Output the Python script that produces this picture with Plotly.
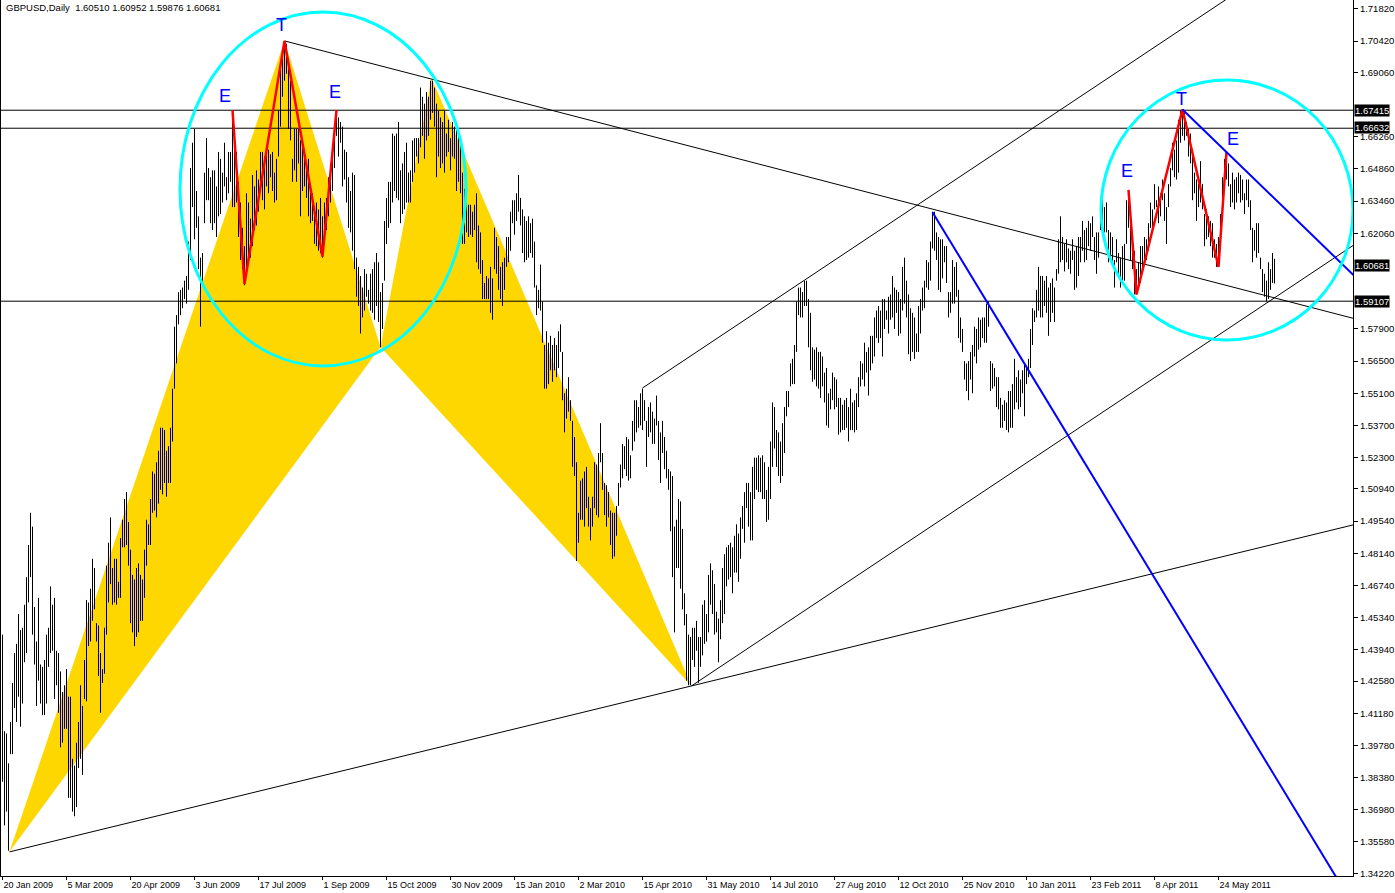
import plotly.graph_objects as go

# ---------------- data ----------------
highs = [
 1.446,1.404,1.403,1.390,1.408,1.425,1.438,1.442,1.455,1.448,
 1.449,1.459,1.471,1.485,1.499,1.493,1.458,1.443,1.462,1.433,
 1.432,1.435,1.446,1.449,1.467,1.459,1.462,1.439,1.438,1.430,
 1.421,1.424,1.431,1.419,1.419,1.392,1.389,1.399,1.408,1.424,
 1.415,1.435,1.461,1.460,1.466,1.479,1.475,1.451,1.450,1.438,
 1.431,1.449,1.476,1.486,1.497,1.475,1.479,1.479,1.469,1.488,
 1.496,1.505,1.508,1.495,1.483,1.472,1.470,1.475,1.477,1.472,
 1.470,1.483,1.496,1.494,1.505,1.517,1.516,1.521,1.526,1.536,
 1.536,1.535,1.526,1.528,1.536,1.553,1.580,1.585,1.595,1.596,
 1.597,1.600,1.602,1.617,1.649,1.660,1.666,1.639,1.628,1.610,
 1.612,1.647,1.662,1.649,1.645,1.648,1.648,1.641,1.656,1.653,
 1.647,1.660,1.645,1.656,1.656,1.674,1.667,1.656,1.643,1.634,
 1.623,1.615,1.638,1.634,1.627,1.646,1.641,1.648,1.644,1.656,
 1.656,1.654,1.658,1.657,1.655,1.656,1.647,1.653,1.674,1.693,
 1.699,1.704,1.703,1.696,1.687,1.653,1.666,1.666,1.666,1.661,
 1.659,1.657,1.651,1.653,1.641,1.638,1.631,1.634,1.631,1.636,
 1.628,1.634,1.636,1.645,1.651,1.658,1.666,1.674,1.671,1.669,
 1.667,1.657,1.656,1.645,1.639,1.647,1.646,1.610,1.606,1.602,
 1.597,1.605,1.603,1.596,1.603,1.605,1.608,1.612,1.608,1.595,
 1.599,1.626,1.636,1.643,1.643,1.664,1.663,1.664,1.669,1.648,
 1.651,1.656,1.660,1.647,1.648,1.661,1.662,1.662,1.662,1.684,
 1.680,1.677,1.682,1.680,1.687,1.687,1.684,1.677,1.674,1.671,
 1.669,1.674,1.664,1.670,1.662,1.669,1.667,1.666,1.664,1.661,
 1.647,1.640,1.635,1.633,1.633,1.630,1.633,1.638,1.624,1.621,
 1.609,1.599,1.602,1.601,1.606,1.601,1.623,1.619,1.615,1.606,
 1.608,1.610,1.619,1.619,1.630,1.635,1.635,1.638,1.646,1.636,
 1.631,1.628,1.626,1.628,1.625,1.627,1.617,1.598,1.596,1.607,
 1.591,1.572,1.578,1.573,1.576,1.572,1.575,1.572,1.578,1.581,
 1.569,1.551,1.553,1.558,1.548,1.539,1.532,1.521,1.499,1.513,
 1.514,1.517,1.519,1.506,1.501,1.506,1.521,1.520,1.525,1.538,
 1.525,1.512,1.511,1.508,1.500,1.499,1.499,1.502,1.512,1.520,
 1.529,1.528,1.532,1.531,1.524,1.539,1.548,1.548,1.545,1.551,
 1.553,1.548,1.539,1.545,1.547,1.543,1.540,1.550,1.539,1.534,
 1.539,1.532,1.526,1.518,1.517,1.515,1.493,1.496,1.505,1.504,
 1.492,1.464,1.455,1.446,1.445,1.449,1.449,1.452,1.445,1.445,
 1.459,1.461,1.455,1.472,1.477,1.474,1.468,1.456,1.453,1.461,
 1.475,1.481,1.484,1.485,1.486,1.484,1.489,1.494,1.490,1.497,
 1.502,1.508,1.512,1.512,1.508,1.519,1.523,1.523,1.524,1.523,
 1.524,1.521,1.509,1.519,1.530,1.547,1.545,1.535,1.534,1.530,
 1.538,1.545,1.552,1.552,1.564,1.566,1.572,1.591,1.597,1.597,
 1.595,1.600,1.600,1.592,1.586,1.571,1.570,1.571,1.569,1.569,
 1.567,1.560,1.562,1.551,1.553,1.560,1.558,1.557,1.549,1.549,
 1.546,1.548,1.549,1.545,1.553,1.547,1.548,1.551,1.558,1.565,
 1.564,1.573,1.569,1.571,1.576,1.576,1.584,1.587,1.589,1.587,
 1.592,1.592,1.587,1.593,1.594,1.602,1.597,1.596,1.595,1.592,
 1.606,1.610,1.600,1.594,1.588,1.586,1.584,1.577,1.589,1.592,
 1.597,1.600,1.609,1.608,1.617,1.630,1.630,1.621,1.619,1.618,
 1.618,1.615,1.615,1.595,1.595,1.609,1.606,1.608,1.596,1.584,
 1.579,1.565,1.564,1.565,1.569,1.572,1.580,1.579,1.584,1.583,
 1.584,1.584,1.590,1.591,1.565,1.564,1.562,1.558,1.558,1.549,
 1.546,1.548,1.547,1.552,1.552,1.555,1.566,1.558,1.561,1.557,
 1.561,1.564,1.562,1.566,1.579,1.588,1.587,1.596,1.606,1.602,
 1.602,1.600,1.602,1.597,1.599,1.601,1.597,1.605,1.618,1.628,
 1.619,1.616,1.618,1.614,1.613,1.618,1.613,1.615,1.619,1.619,
 1.626,1.622,1.623,1.626,1.625,1.628,1.619,1.621,1.621,1.628,
 1.635,1.632,1.634,1.622,1.621,1.619,1.609,1.618,1.612,1.610,
 1.615,1.616,1.635,1.639,1.629,1.616,1.613,1.605,1.608,1.615,
 1.615,1.619,1.618,1.625,1.634,1.631,1.642,1.635,1.641,1.638,
 1.644,1.638,1.632,1.642,1.649,1.660,1.657,1.661,1.670,1.674,
 1.6745,1.673,1.669,1.666,1.664,1.657,1.647,1.644,1.642,1.652,
 1.642,1.629,1.631,1.628,1.626,1.625,1.618,1.616,1.619,1.629,
 1.645,1.653,1.656,1.651,1.642,1.647,1.644,1.645,1.647,1.646,
 1.644,1.638,1.644,1.644,1.635,1.623,1.622,1.625,1.625,1.610,
 1.605,1.603,1.600,1.608,1.605,1.612,1.6095,
]

lows = [
 1.382,1.363,1.369,1.352,1.394,1.394,1.414,1.408,1.419,1.406,
 1.416,1.434,1.438,1.460,1.471,1.446,1.433,1.415,1.426,1.416,
 1.411,1.411,1.416,1.432,1.438,1.439,1.418,1.424,1.412,1.397,
 1.399,1.405,1.405,1.375,1.375,1.369,1.367,1.371,1.388,1.392,
 1.385,1.418,1.417,1.441,1.443,1.452,1.457,1.443,1.428,1.412,
 1.425,1.429,1.446,1.460,1.468,1.459,1.460,1.459,1.462,1.462,
 1.484,1.484,1.485,1.476,1.451,1.447,1.441,1.445,1.447,1.452,
 1.452,1.462,1.476,1.485,1.485,1.499,1.500,1.497,1.503,1.509,
 1.507,1.512,1.506,1.512,1.512,1.530,1.553,1.564,1.581,1.585,
 1.588,1.592,1.590,1.596,1.609,1.632,1.618,1.623,1.605,1.580,
 1.598,1.625,1.635,1.635,1.625,1.622,1.625,1.619,1.628,1.629,
 1.634,1.641,1.635,1.638,1.643,1.632,1.632,1.634,1.619,1.609,
 1.605,1.598,1.603,1.608,1.610,1.615,1.622,1.624,1.630,1.639,
 1.635,1.631,1.641,1.638,1.645,1.639,1.634,1.635,1.654,1.667,
 1.680,1.687,1.690,1.666,1.661,1.643,1.648,1.643,1.651,1.628,
 1.639,1.641,1.636,1.628,1.625,1.626,1.616,1.615,1.613,1.612,
 1.610,1.619,1.622,1.628,1.634,1.639,1.649,1.663,1.654,1.660,
 1.641,1.644,1.634,1.623,1.621,1.613,1.605,1.593,1.589,1.577,
 1.584,1.587,1.593,1.590,1.587,1.586,1.583,1.589,1.582,1.571,
 1.579,1.600,1.616,1.623,1.625,1.634,1.639,1.636,1.635,1.625,
 1.629,1.631,1.634,1.634,1.634,1.643,1.647,1.654,1.651,1.658,
 1.663,1.653,1.661,1.663,1.670,1.673,1.667,1.645,1.654,1.649,
 1.651,1.647,1.654,1.656,1.648,1.654,1.653,1.639,1.643,1.638,
 1.616,1.616,1.621,1.619,1.620,1.619,1.622,1.608,1.605,1.603,
 1.592,1.592,1.592,1.592,1.586,1.583,1.605,1.603,1.596,1.592,
 1.589,1.596,1.606,1.608,1.613,1.625,1.620,1.626,1.630,1.624,
 1.612,1.608,1.609,1.610,1.612,1.610,1.597,1.585,1.588,1.587,
 1.573,1.553,1.553,1.555,1.561,1.556,1.561,1.558,1.562,1.569,
 1.548,1.534,1.540,1.543,1.539,1.519,1.515,1.478,1.486,1.496,
 1.496,1.493,1.501,1.493,1.487,1.493,1.501,1.498,1.497,1.521,
 1.509,1.498,1.493,1.497,1.485,1.479,1.480,1.489,1.502,1.510,
 1.514,1.518,1.515,1.513,1.514,1.526,1.530,1.534,1.536,1.537,
 1.535,1.539,1.519,1.532,1.534,1.529,1.529,1.537,1.522,1.512,
 1.525,1.518,1.514,1.509,1.491,1.471,1.447,1.475,1.475,1.466,
 1.457,1.450,1.426,1.424,1.424,1.435,1.432,1.439,1.425,1.432,
 1.437,1.442,1.443,1.447,1.459,1.455,1.446,1.447,1.434,1.444,
 1.451,1.455,1.467,1.470,1.471,1.464,1.473,1.473,1.469,1.479,
 1.492,1.486,1.501,1.493,1.487,1.487,1.505,1.509,1.508,1.508,
 1.505,1.505,1.495,1.496,1.505,1.519,1.527,1.519,1.515,1.512,
 1.515,1.525,1.541,1.545,1.554,1.555,1.555,1.569,1.585,1.584,
 1.584,1.589,1.589,1.571,1.561,1.556,1.557,1.554,1.553,1.549,
 1.554,1.547,1.537,1.536,1.544,1.548,1.544,1.545,1.533,1.534,
 1.535,1.535,1.536,1.530,1.535,1.535,1.534,1.535,1.545,1.554,
 1.557,1.554,1.560,1.550,1.561,1.564,1.567,1.575,1.573,1.575,
 1.567,1.579,1.583,1.577,1.583,1.584,1.579,1.586,1.576,1.577,
 1.587,1.590,1.584,1.568,1.565,1.569,1.566,1.569,1.569,1.577,
 1.587,1.588,1.597,1.596,1.600,1.614,1.613,1.609,1.596,1.595,
 1.601,1.608,1.599,1.584,1.586,1.590,1.590,1.593,1.575,1.573,
 1.569,1.557,1.552,1.548,1.557,1.551,1.567,1.564,1.570,1.571,
 1.575,1.573,1.573,1.580,1.552,1.553,1.554,1.545,1.544,1.536,
 1.536,1.539,1.535,1.534,1.536,1.536,1.544,1.547,1.544,1.545,
 1.551,1.541,1.555,1.558,1.562,1.572,1.582,1.584,1.587,1.584,
 1.584,1.589,1.586,1.576,1.582,1.586,1.582,1.600,1.603,1.608,
 1.609,1.604,1.608,1.605,1.603,1.609,1.596,1.597,1.602,1.608,
 1.613,1.608,1.609,1.615,1.613,1.619,1.609,1.603,1.610,1.622,
 1.623,1.621,1.621,1.608,1.609,1.608,1.597,1.608,1.602,1.597,
 1.599,1.600,1.616,1.623,1.609,1.605,1.594,1.594,1.597,1.599,
 1.603,1.608,1.609,1.613,1.623,1.621,1.631,1.632,1.625,1.628,
 1.635,1.626,1.616,1.632,1.641,1.648,1.645,1.644,1.647,1.660,
 1.663,1.661,1.663,1.654,1.651,1.635,1.638,1.626,1.632,1.634,
 1.631,1.615,1.618,1.619,1.615,1.610,1.610,1.606,1.606,1.616,
 1.634,1.639,1.644,1.641,1.632,1.634,1.631,1.634,1.638,1.634,
 1.635,1.629,1.635,1.632,1.622,1.608,1.613,1.610,1.612,1.605,
 1.595,1.593,1.591,1.592,1.596,1.599,1.5988,
]

date_labels = ["20 Jan 2009", "5 Mar 2009", "20 Apr 2009", "3 Jun 2009", "17 Jul 2009",
               "1 Sep 2009", "15 Oct 2009", "30 Nov 2009", "15 Jan 2010", "2 Mar 2010",
               "15 Apr 2010", "31 May 2010", "14 Jul 2010", "27 Aug 2010", "12 Oct 2010",
               "25 Nov 2010", "10 Jan 2011", "23 Feb 2011", "8 Apr 2011", "24 May 2011"]
bars_per_label = 32

# visible price-scale ticks (the ones hidden under the price boxes are left out)
price_ticks = [1.7182, 1.7042, 1.6906, 1.6626, 1.6486, 1.6346, 1.6206,
               1.5790, 1.5650, 1.5510, 1.5370, 1.5230, 1.5094, 1.4954, 1.4814,
               1.4674, 1.4534, 1.4394, 1.4258, 1.4118, 1.3978, 1.3838, 1.3698, 1.3558, 1.3422]

hline_prices = [1.67415, 1.66632, 1.59107]
last_price = 1.60681
header_text = "GBPUSD,Daily  1.60510 1.60952 1.59876 1.60681"

# Pattern drawings: (bar index, price)
tri1_bar = [3.5, 141, 189]
tri1_price = [1.3515, 1.7043, 1.5711]
tri2_bar = [189, 214.5, 344.5]
tri2_price = [1.5711, 1.6882, 1.4237]

# trend rays: anchor1 bar, anchor1 price, anchor2 bar, anchor2 price
ray_xd = (3.5, 1.3515, 344.5, 1.4237)          # X -> D, extended
ray_tc = (141, 1.7043, 214.5, 1.6877)          # T -> C, extended
chan_low = (344.5, 1.4237, 633.5, 1.5911)      # channel base
chan_up_anchor = (320, 1.5533)                 # parallel line anchor

blue_a = (465, 1.6298, 492, 1.5911)
blue_b = (590, 1.6745, 676, 1.6020)

red_left_bar = [115, 121, 141, 160, 167]
red_left_price = [1.6742, 1.5985, 1.7043, 1.6105, 1.6742]
red_right_bar = [563, 567, 590, 608, 612]
red_right_price = [1.6395, 1.5940, 1.6745, 1.6060, 1.6560]

ellipse_left = (88.75, 231.75, 1.5629, 1.7169)
ellipse_right = (549.25, 675.25, 1.5742, 1.6873)

pattern_labels = [("E", 111.25, 1.6803), ("T", 139.6, 1.7112), ("E", 166.25, 1.6821),
                  ("E", 562.25, 1.6477), ("T", 589.25, 1.6790), ("E", 615.25, 1.6616)]

X_RANGE = [-0.75, 675.25]
Y_RANGE = [1.3410, 1.7221]
X_END = 676

FONT = "Liberation Sans, Arial, sans-serif"
FS = 9

fig = go.Figure()

# yellow harmonic triangles (behind the bars)
for bx, py in ((tri1_bar, tri1_price), (tri2_bar, tri2_price)):
    fig.add_trace(go.Scatter(x=bx + [bx[0]], y=py + [py[0]], mode="lines", fill="toself",
                             fillcolor="#FFD700", line=dict(width=0, color="#FFD700"),
                             hoverinfo="skip"))

# price bars (high-low lines)
bx, by = [], []
for i, (h, l) in enumerate(zip(highs, lows)):
    bx += [i, i, None]
    by += [l, h, None]
fig.add_trace(go.Scatter(x=bx, y=by, mode="lines", line=dict(color="black", width=1),
                         hoverinfo="skip"))


def ray(x0, y0, x1, y1, xend=X_END):
    s = (y1 - y0) / (x1 - x0)
    return [x0, xend], [y0, y0 + s * (xend - x0)]


def add_line(xs, ys, color, width):
    fig.add_trace(go.Scatter(x=xs, y=ys, mode="lines", line=dict(color=color, width=width),
                             hoverinfo="skip"))


# horizontal price lines
for p in hline_prices:
    add_line(X_RANGE, [p, p], "black", 1)

add_line(*ray(*ray_xd), "black", 1)
add_line(*ray(*ray_tc), "black", 1)
add_line(*ray(*chan_low), "black", 1)
slope_ch = (chan_low[3] - chan_low[1]) / (chan_low[2] - chan_low[0])
ux, uy = chan_up_anchor
add_line([ux, X_END], [uy, uy + slope_ch * (X_END - ux)], "black", 1)

# red zigzags
add_line(red_left_bar, red_left_price, "#FF0000", 2.5)
add_line(red_right_bar, red_right_price, "#FF0000", 2.5)

# blue trend lines
add_line(*ray(*blue_a), "#0000FF", 2)
add_line([blue_b[0], blue_b[2]], [blue_b[1], blue_b[3]], "#0000FF", 2)

shapes = []
for x0, x1, y0, y1 in (ellipse_left, ellipse_right):
    shapes.append(dict(type="circle", xref="x", yref="y", x0=x0, x1=x1, y0=y0, y1=y1,
                       line=dict(color="#00FFFF", width=3), layer="above"))

annotations = []
for txt, xi, py in pattern_labels:
    annotations.append(dict(x=xi, y=py, xref="x", yref="y", text=txt, showarrow=False,
                            font=dict(family=FONT, size=18, color="#0000FF")))

for p in hline_prices + [last_price]:
    annotations.append(dict(x=1, xref="paper", y=p, yref="y", xanchor="left", yanchor="middle",
                            text=f"{p:.5f}", showarrow=False, bgcolor="black", borderpad=0,
                            xshift=1, yshift=(1 if p == 1.66632 else 0),
                            font=dict(family=FONT, size=FS + 0.5, color="white")))

annotations.append(dict(x=0.002, y=1, xref="paper", yref="paper", xanchor="left", yanchor="top",
                        text=header_text, showarrow=False,
                        font=dict(family=FONT, size=FS + 0.5, color="black")))

fig.update_layout(
    width=1395, height=893,
    margin=dict(l=1, r=42, t=0, b=17),
    plot_bgcolor="white", paper_bgcolor="white",
    showlegend=False,
    shapes=shapes, annotations=annotations,
    font=dict(family=FONT, size=FS, color="black"),
    xaxis=dict(range=X_RANGE, showgrid=False, zeroline=False, showline=True,
               linecolor="black", linewidth=1, ticks="outside", ticklen=3, tickcolor="black",
               tickvals=[k * bars_per_label for k in range(len(date_labels))],
               ticktext=date_labels, ticklabelposition="outside right",
               tickfont=dict(family=FONT, size=FS, color="black"), fixedrange=True),
    yaxis=dict(range=Y_RANGE, side="right", showgrid=False, zeroline=False, showline=True,
               mirror=True, linecolor="black", linewidth=1, ticks="outside", ticklen=4,
               tickcolor="black", tickvals=price_ticks,
               ticktext=[f"{v:.5f}" for v in price_ticks],
               tickfont=dict(family=FONT, size=FS + 0.5, color="black"), fixedrange=True),
)

fig.write_html("out.html", config={"displayModeBar": False},
               post_script="document.body.style.margin='0';document.body.style.overflow='hidden';")
